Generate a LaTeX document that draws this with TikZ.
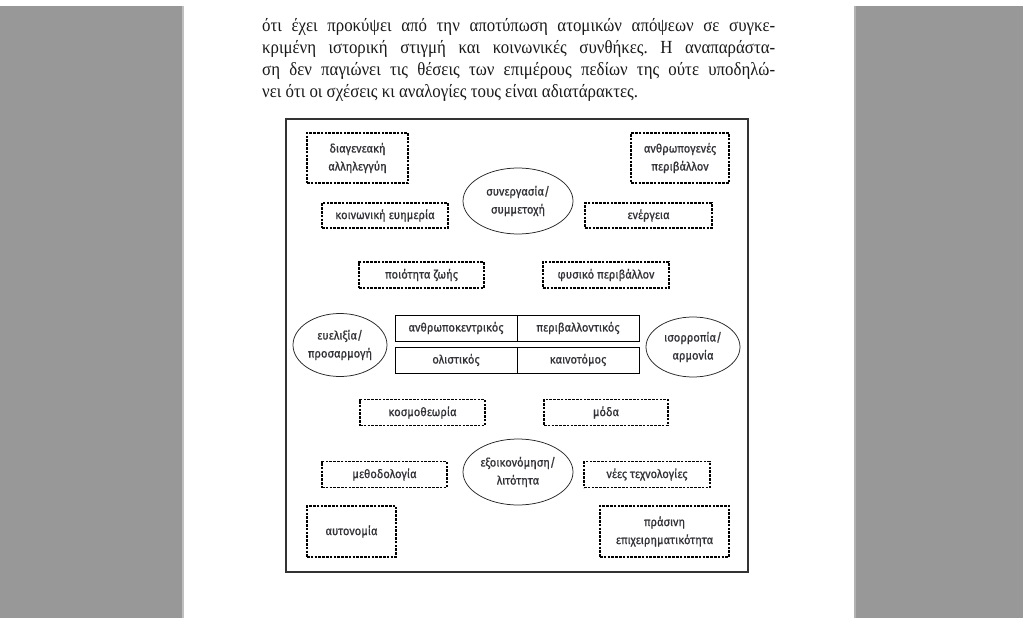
\documentclass[tikz,border=0pt]{standalone}
\usepackage{fontspec}
\setmainfont{Liberation Serif}
\newfontfamily\diagfont[FakeBold=0.7,FakeStretch=0.93]{Fira Sans}
\newfontfamily\bodyfont[FakeStretch=0.91]{Liberation Serif}
\usetikzlibrary{shapes.geometric}
\definecolor{pagegray}{RGB}{152,152,152}
\definecolor{inkgray}{RGB}{50,50,56}
\tikzset{
  dbox/.style={draw=black, line width=1.6pt, dash pattern=on 2.6pt off 1.2pt,
    inner sep=0pt, align=center, text=inkgray,
    font=\diagfont\fontsize{12}{18}\selectfont},
  oval/.style={ellipse, draw=black!85, line width=0.75pt, inner sep=0pt,
    align=center, text=inkgray, font=\diagfont\fontsize{12}{18}\selectfont},
  cell/.style={draw=black, line width=0.9pt, inner sep=0pt,
    minimum width=122pt, minimum height=26pt, text=inkgray,
    font=\diagfont\fontsize{12}{18}\selectfont},
  bodyline/.style={anchor=base west, inner sep=0pt,
    font=\bodyfont\fontsize{18.5}{22}\selectfont, text=black!90}
}
\begin{document}
\frenchspacing
\begin{tikzpicture}[x=1pt,y=-1pt]
\useasboundingbox (0,0) rectangle (1023,618);
\fill[white] (0,0) rectangle (1023,618);
\fill[pagegray] (0,6) rectangle (182,618);
\fill[pagegray] (856,6) rectangle (1023,618);
\fill[black!25] (182,6) rectangle (183.5,618);
\fill[black!30] (854,6) rectangle (856,618);

% text above the figure
\node[bodyline] (l1) at (262,32) {\makebox[513pt][s]{ότι έχει προκύψει από την αποτύπωση ατομικών απόψεων σε συγκε-}};
\node[bodyline] (l2) at (262,54) {\makebox[513pt][s]{κριμένη ιστορική στιγμή και κοινωνικές συνθήκες. Η αναπαράστα-}};
\node[bodyline] (l3) at (262,76) {\makebox[513pt][s]{ση δεν παγιώνει τις θέσεις των επιμέρους πεδίων της ούτε υποδηλώ-}};
\node[bodyline] (l4) at (262,98) {νει ότι οι σχέσεις κι αναλογίες τους είναι αδιατάρακτες.};

% frame
\draw[line width=1.1pt, draw=black!80] (286,119) rectangle (748,572);

% dashed boxes
\node[dbox, minimum width=101pt, minimum height=50pt] (dA) at (357.5,158) {διαγενεακή\\αλληλεγγύη};
\node[dbox, minimum width=98pt, minimum height=50pt] (dB) at (680,158) {ανθρωπογενές\\περιβάλλον};
\node[dbox, minimum width=126pt, minimum height=25pt] (dC) at (385,215.5) {κοινωνική ευημερία};
\node[dbox, minimum width=127pt, minimum height=25pt] (dD) at (648.5,215.5) {ενέργεια};
\node[dbox, minimum width=125pt, minimum height=26pt] (dE) at (421.5,275) {ποιότητα ζωής};
\node[dbox, minimum width=126pt, minimum height=26pt] (dF) at (606,275) {φυσικό περιβάλλον};
\node[dbox, minimum width=125pt, minimum height=26pt] (dG) at (422.5,412.5) {κοσμοθεωρία};
\node[dbox, minimum width=124pt, minimum height=26pt] (dH) at (606,412.5) {μόδα};
\node[dbox, minimum width=125pt, minimum height=26pt] (dI) at (384.5,474.5) {μεθοδολογία};
\node[dbox, minimum width=126pt, minimum height=26pt] (dJ) at (647,474.5) {νέες τεχνολογίες};
\node[dbox, minimum width=89pt, minimum height=51pt] (dK) at (351.5,531.5) {αυτονομία};
\node[dbox, minimum width=129pt, minimum height=51pt] (dL) at (664.5,531.5) {πράσινη\\επιχειρηματικότητα};

% ellipses
\node[oval, minimum width=110pt, minimum height=66pt] (eT) at (518,201) {συνεργασία/\\συμμετοχή};
\node[oval, minimum width=110pt, minimum height=66pt] (eB) at (518,472) {εξοικονόμηση/\\λιτότητα};
\node[oval, minimum width=94pt, minimum height=63pt] (eL) at (340,345) {ευελιξία/\\προσαρμογή};
\node[oval, minimum width=94pt, minimum height=60pt] (eR) at (693,347) {ισορροπία/\\αρμονία};

% central table
\node[cell] (c11) at (456,328) {ανθρωποκεντρικός};
\node[cell] (c12) at (578,328) {περιβαλλοντικός};
\node[cell] (c21) at (456,360) {ολιστικός};
\node[cell] (c22) at (578,360) {καινοτόμος};
\end{tikzpicture}
\end{document}
